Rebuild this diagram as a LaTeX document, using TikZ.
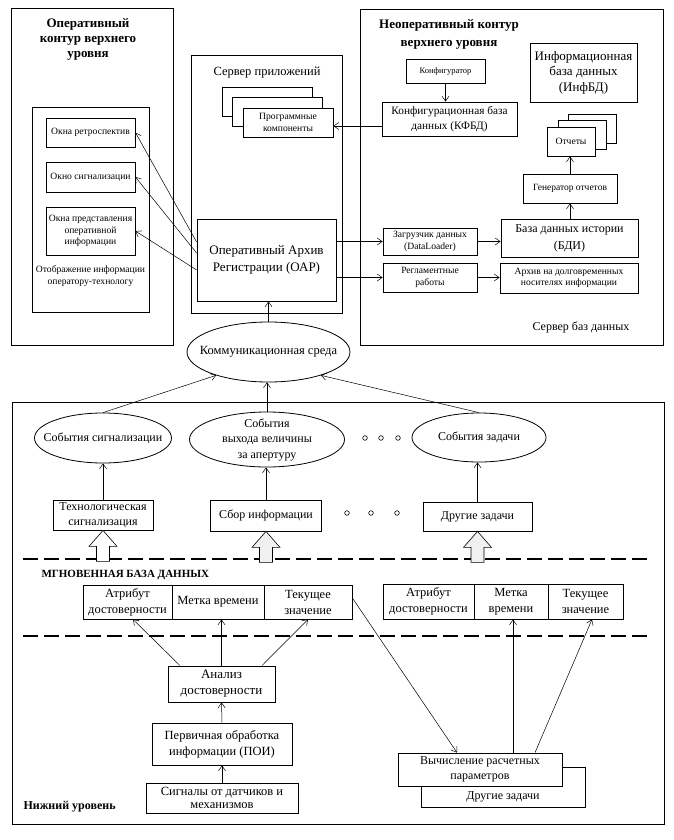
\documentclass[tikz,border=0pt]{standalone}
\usepackage{fontspec}
\setmainfont{Liberation Serif}
\usetikzlibrary{arrows.meta,shapes.geometric,calc}
\begin{document}
\begin{tikzpicture}[x=1pt,y=-1pt,
  box/.style={draw,line width=0.8pt,inner sep=1pt,align=center,fill=white},
  cont/.style={draw,line width=0.6pt,inner sep=0pt},
  ell/.style={draw,ellipse,line width=0.8pt,inner sep=0pt},
  con/.style={line width=0.5pt,-{Straight Barb[length=5pt,width=7pt]}},
  sm/.style={font=\fontsize{9.6}{11.5}\selectfont},
  md/.style={font=\fontsize{12}{14.5}\selectfont},
  cell/.style={font=\fontsize{12.5}{16}\selectfont},
  bt/.style={font=\fontsize{13}{15}\selectfont\bfseries,align=center},
  dline/.style={line width=2pt,dash pattern=on 15pt off 6pt},
  blk/.style={draw,line width=0.6pt,fill=white},
  blkg/.style={draw,line width=0.6pt,fill=black!6},
  dot/.style={line width=0.6pt},
]
\useasboundingbox (0,0) rectangle (674,840);

% ---------- upper left: operative contour ----------
\node[cont,minimum width=162,minimum height=337] (lo) at (92,176.5) {};
\node[bt] (lot) at (88,39) {Оперативный\\контур верхнего\\уровня};
\node[cont,minimum width=117,minimum height=205] (disp) at (90.5,209.5) {};
\node[box,sm,minimum width=89,minimum height=29] (retro) at (90.5,132.5) {Окна ретроспектив};
\node[box,sm,minimum width=89,minimum height=30] (sigw) at (90.5,177) {Окно сигнализации};
\node[box,sm,minimum width=89,minimum height=48,inner sep=0pt] (pred) at (90.5,231) {Окна представления\\оперативной\\информации};
\node[sm,align=center] (dispt) at (90.5,276) {Отображение информации\\оператору-технологу};

% ---------- application server ----------
\node[cont,minimum width=151,minimum height=258] (app) at (266.5,184) {};
\node[font=\fontsize{12.5}{15}\selectfont] (appt) at (267,73) {Сервер приложений};
\node[box,minimum width=90,minimum height=29] (prog3) at (267,101.5) {};
\node[box,minimum width=90,minimum height=29] (prog2) at (277.5,112) {};
\node[box,sm,minimum width=90,minimum height=29] (prog) at (288,122.5) {Программные\\компоненты};
\node[box,font=\fontsize{13}{16.5}\selectfont,minimum width=139,minimum height=82] (oar) at (266.5,260) {Оперативный Архив\\Регистрации (ОАР)};

% ---------- upper right: non-operative contour ----------
\node[cont,minimum width=303,minimum height=336] (ro) at (511.5,177) {};
\node[font=\fontsize{13}{18}\selectfont\bfseries,align=center] (rot) at (449,34) {Неоперативный контур\\верхнего уровня};
\node[box,font=\fontsize{8.5}{10}\selectfont,minimum width=79,minimum height=24] (konf) at (445.5,71) {Конфигуратор};
\node[box,font=\fontsize{11.3}{15}\selectfont,minimum width=135,minimum height=34] (kfbd) at (449.5,119) {Конфигурационная база\\данных (КФБД)};
\node[box,font=\fontsize{13}{15.5}\selectfont,minimum width=107,minimum height=59] (infbd) at (583.5,72.5) {Информационная\\база данных\\(ИнфБД)};
\node[box,minimum width=48,minimum height=29] (rep3) at (592.5,128.5) {};
\node[box,minimum width=48,minimum height=29] (rep2) at (582,135) {};
\node[box,sm,minimum width=48,minimum height=29] (rep1) at (571,141.5) {Отчеты};
\node[box,font=\fontsize{9.5}{11}\selectfont,minimum width=94,minimum height=29] (gen) at (570,188.5) {Генератор отчетов};
\node[box,font=\fontsize{12}{17}\selectfont,minimum width=137,minimum height=38] (bdi) at (569.5,238) {База данных истории\\(БДИ)};
\node[box,sm,minimum width=94,minimum height=27] (loader) at (430,241.5) {Загрузчик данных\\(DataLoader)};
\node[box,sm,minimum width=94,minimum height=29] (reglam) at (430,277.5) {Регламентные\\работы};
\node[box,sm,minimum width=138,minimum height=30] (arch) at (569,278) {Архив на долговременных\\носителях информации};
\node[font=\fontsize{12}{14}\selectfont] (dbs) at (581,327) {Сервер баз данных};

% ---------- communication ----------
\node[ell,minimum width=163,minimum height=60] (comm) at (268.5,352) {};
\node[font=\fontsize{12.5}{15}\selectfont] (commt) at (comm) {Коммуникационная среда};

% ---------- lower level ----------
\node[cont,minimum width=652,minimum height=422] (low) at (338,613) {};
\node[ell,minimum width=137,minimum height=50] (ev1) at (103,438) {};
\node[md] (ev1t) at (ev1) {События сигнализации};
\node[ell,minimum width=155,minimum height=55] (ev2) at (267,439.5) {};
\node[font=\fontsize{12}{15.5}\selectfont,align=center] (ev2t) at (ev2) {События\\выхода величины\\за апертуру};
\node[ell,minimum width=134,minimum height=49] (ev3) at (479,437.5) {};
\node[md] (ev3t) at (ev3) {События задачи};
\foreach \x in {365,381,398} \draw[dot] (\x,438) circle (2.3);
\foreach \x in {347,371,397} \draw[dot] (\x,513) circle (2.3);

\node[box,md,minimum width=100,minimum height=30,inner sep=0pt] (tech) at (103,515) {Технологическая\\сигнализация};
\node[box,md,minimum width=111,minimum height=31] (sbor) at (266,515.5) {Сбор информации};
\node[box,md,minimum width=109,minimum height=29] (other) at (477.5,516.5) {Другие задачи};

\coordinate (d1a) at (23,559);
\coordinate (d1b) at (652,559);
\draw[dline] (d1a) -- (d1b);
\draw[blk] (tech.south) -- ++(14,16) -- ++(-7.5,0) -- ++(0,15) -- ++(-13,0) -- ++(0,-15) -- ++(-7.5,0) -- cycle;
\draw[blkg] (sbor.south) -- ++(14,16) -- ++(-7.5,0) -- ++(0,15) -- ++(-13,0) -- ++(0,-15) -- ++(-7.5,0) -- cycle;
\draw[blkg] (other.south) -- ++(14,16) -- ++(-7.5,0) -- ++(0,15) -- ++(-13,0) -- ++(0,-15) -- ++(-7.5,0) -- cycle;

\node[anchor=west,font=\fontsize{11}{13}\selectfont\bfseries] (mgn) at (38,575) {МГНОВЕННАЯ БАЗА ДАННЫХ};
\node[box,cell,minimum width=89,minimum height=34] (cA) at (127.5,602) {Атрибут\\достоверности};
\node[box,cell,minimum width=92,minimum height=34] (cB) at (218,602) {Метка времени};
\node[box,cell,minimum width=88,minimum height=34] (cC) at (308,602) {Текущее\\значение};
\node[box,cell,minimum width=91,minimum height=35] (cD) at (428.5,601.5) {Атрибут\\достоверности};
\node[box,cell,minimum width=74,minimum height=35] (cE) at (511,601.5) {Метка\\времени};
\node[box,cell,minimum width=75,minimum height=35] (cF) at (585.5,601.5) {Текущее\\значение};

\coordinate (d2a) at (23,636);
\coordinate (d2b) at (652,636);
\draw[dline] (d2a) -- (d2b);

\node[box,font=\fontsize{13}{16}\selectfont,minimum width=107,minimum height=36] (analiz) at (221.5,684) {Анализ\\достоверности};
\node[box,font=\fontsize{12.5}{16}\selectfont,minimum width=140,minimum height=42] (perv) at (222,744) {Первичная обработка\\информации (ПОИ)};
\node[box,font=\fontsize{12.5}{13.5}\selectfont,minimum width=152,minimum height=30,inner sep=0pt] (sig) at (222,798) {Сигналы от датчиков и\\механизмов};
\node[anchor=west,font=\fontsize{12}{14}\selectfont\bfseries] (niz) at (20,807) {Нижний уровень};

\node[box,minimum width=164,minimum height=40] (calc2) at (503,787) {};
\node[md] (calc2t) at (503,797) {Другие задачи};
\node[box,font=\fontsize{12}{15}\selectfont,minimum width=164,minimum height=33,inner sep=0pt] (calc) at (480,769.5) {Вычисление расчетных\\параметров};

% ---------- connectors ----------
\draw[con] ([yshift=18pt]oar.west) -- (retro.east);
\draw[con] ([yshift=7pt]oar.west) -- (sigw.east);
\draw[con] ([yshift=-10pt]oar.west) -- (pred.east);
\coordinate (k1) at ([yshift=-7pt]kfbd.west);
\draw[con] (k1) -- (k1 -| prog.east);
\draw[con] (konf.south) -- (konf.south |- kfbd.north);
\draw[con] (oar.east |- loader.west) -- (loader.west);
\draw[con] (oar.east |- reglam.west) -- (reglam.west);
\draw[con] (loader.east) -- (loader.east -| bdi.west);
\draw[con] (reglam.east) -- (reglam.east -| arch.west);
\draw[con] (bdi.north -| gen.south) -- (gen.south);
\draw[con] (gen.north) -- (gen.north |- rep1.south);
\draw[con] (comm.north) -- (comm.north |- oar.south);
\draw[con] (ev1.north) -- (comm.204);
\draw[con] (ev2.north) -- (ev2.north |- comm.south);
\draw[con] (ev3.north) -- (comm.336);
\draw[con] (tech.north) -- (ev1.south);
\draw[con] (sbor.north) -- (sbor.north |- ev2.south);
\draw[con] (other.north) -- (other.north |- ev3.south);
\draw[con] ([xshift=-41.5pt]analiz.north) -- ([xshift=5.5pt]cA.south);
\draw[con] (analiz.north) -- (analiz.north |- cB.south);
\draw[con] ([xshift=40.5pt]analiz.north) -- (cC.south);
\draw[con] (perv.north) -- (analiz.south);
\draw[con] (sig.north) -- (perv.south);
\draw[con] ([yshift=4pt]cC.east) -- ([xshift=-23pt]calc.north);
\coordinate (c1) at ([xshift=33pt]calc.north);
\draw[con] (c1) -- (c1 |- cE.south);
\draw[con] ([xshift=55pt]calc.north) -- ([xshift=6.5pt]cF.south);
\end{tikzpicture}
\end{document}
